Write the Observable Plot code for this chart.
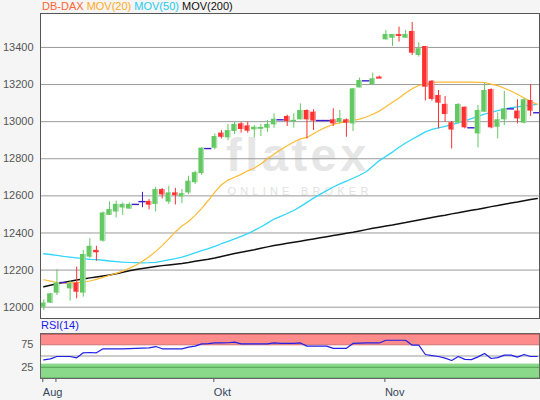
<!DOCTYPE html>
<html><head><meta charset="utf-8">
<script src="https://cdn.jsdelivr.net/npm/d3@7"></script>
<script src="https://cdn.jsdelivr.net/npm/@observablehq/plot@0.6"></script>
<style>
html,body{margin:0;padding:0;background:#f5f5f5;}
#wrap{position:relative;width:540px;height:400px;overflow:hidden;font-family:"Liberation Sans",Arial,sans-serif;}
#legend{position:absolute;left:42px;top:0px;font-size:11px;line-height:13px;white-space:pre;}
#rsilabel{position:absolute;left:41px;top:319px;font-size:11px;line-height:13px;color:#1a1aee;}
#main,#rsi{position:absolute;left:0;}
#main{top:0}#rsi{top:320px}
</style></head><body>
<div id="wrap">
<div id="main"></div>
<div id="rsi"></div>
<div id="legend"><span style="color:#ff6633">DB-DAX</span> <span style="color:#ffaa22">MOV(20)</span> <span style="color:#22ccee">MOV(50)</span> <span style="color:#111">MOV(200)</span></div>
<div id="rsilabel">RSI(14)</div>
</div>
<script>
// candle index (trading sessions, left to right)
const open = [12000,12022,12076,12133,12099,12130,12076,12270,12306,12356, 12495,12513,12535,12529,12554,12569,12570,12554,12634,12567, 12616,12594,12616,12671,12720,12855,12857,12938,12913,12947, 12988,12977,12956,12960,12965,12983,13010,13028,13003,13010, 13060,13051,13006,13006,13010,12997,13010,12988,13182,13220, 13199,13240,13441,13450,13470,13450,13486,13357,13405,13218, 13141,13093,12994,12992,13078,12967,12934,13051,13173,12970, 13010,13069,13057,12992,13114,13048];
const high = [12040,12075,12202,12133,12144,12216,12306,12369,12328,12513, 12567,12572,12562,12562,12554,12619,12580,12646,12639,12652, 12641,12634,12706,12733,12860,12855,12934,12952,12985,12997, 12995,12997,12979,12985,13006,13042,13010,13035,13042,13096, 13064,13064,13006,13006,13069,13060,13015,13177,13235,13220, 13262,13245,13492,13470,13510,13492,13535,13425,13405,13222, 13168,13136,13001,13096,13078,12967,13087,13208,13177,13047, 13163,13069,13118,13123,13200,13048];
const low = [11982,12020,12063,12133,12032,12045,12054,12261,12247,12351, 12495,12481,12495,12529,12554,12536,12525,12513,12583,12554, 12551,12558,12607,12661,12711,12855,12848,12907,12898,12931, 12938,12938,12913,12920,12943,12965,13010,12974,12965,13010, 12907,12952,13006,13006,12974,12988,12916,12947,13182,13220, 13199,13234,13441,13405,13429,13450,13357,13348,13111,13111, 12961,12997,12853,12992,12961,12967,12859,13051,12961,12907, 12979,13069,12988,12988,13028,13048];
const close = [12022,12072,12130,12133,12126,12081,12284,12328,12300,12508, 12526,12554,12554,12554,12554,12569,12550,12634,12605,12616, 12601,12612,12679,12725,12857,12855,12920,12916,12952,12985, 12958,12949,12970,12967,12985,13013,13010,13001,13006,13060, 13010,13003,13006,13006,12988,13017,12992,13177,13222,13220, 13231,13236,13470,13470,13466,13470,13369,13393,13186,13120, 13100,13039,12955,13093,12967,12967,13060,13168,12967,13010, 13069,13069,13015,13118,13057,13048];
const mov20 = [12148,12140,12133,12131,12130,12132,12135,12141,12150,12161, 12172,12182,12194,12209,12226,12248,12272,12301,12332,12368, 12405,12438,12462,12495,12533,12575,12620,12660,12685,12700, 12716,12735,12750,12772,12800,12825,12848,12870,12890,12907, 12915,12935,12955,12972,12985,12993,13000,13007,13014,13025, 13040,13057,13080,13105,13128,13155,13178,13195,13203,13210, 13213,13213,13213,13213,13213,13213,13212,13211,13202,13194, 13180,13165,13148,13128,13110,13093];
const mov50 = [12288,12284,12279,12274,12270,12266,12262,12258,12256,12253, 12249,12246,12243,12241,12240,12239,12240,12242,12248,12255, 12262,12270,12281,12293,12305,12316,12328,12342,12355,12368, 12382,12396,12414,12432,12453,12475,12490,12505,12521,12542, 12565,12588,12608,12628,12648,12665,12680,12695,12711,12730, 12760,12790,12813,12836,12862,12885,12905,12925,12945,12958, 12966,12975,12984,12993,13004,13016,13028,13040,13050,13059, 13068,13075,13080,13085,13089,13093];
const mov200 = [12110,12118,12126,12133,12140,12147,12152,12158,12163,12168, 12173,12180,12188,12196,12203,12209,12214,12219,12224,12228, 12232,12236,12241,12247,12253,12258,12265,12273,12281,12289, 12296,12303,12310,12318,12325,12332,12338,12344,12350,12356, 12362,12368,12374,12380,12386,12392,12398,12404,12411,12418, 12425,12431,12437,12443,12450,12456,12463,12470,12477,12484, 12490,12496,12503,12509,12516,12522,12528,12535,12542,12548, 12555,12561,12567,12574,12580,12586];
const rsi14 = [41.5,43.7,48.9,48.9,48.9,45.9,57,57.8,57,66, 66,66,66,66.5,67,67.5,68,71,66,66, 66,66,69.6,72,77,77.5,79,79,79.5,80.7, 77,77,77,77,77,79,78,78,78,79, 72,72,72,72,67,67,67,78,78.5,79, 79,79,85,85,85,85,74,74,53.3,51, 48.9,45.2,40,48.9,42.5,42,48,55.6,44.4,46.5, 52,52,47.4,53.3,48.9,48.9];
const priceTicks = [12000,12200,12400,12600,12800,13000,13200,13400];
const rsiTicks = [25,75];
const xTickIndex = [0,2,26,52];
const xTickLabel = ["Aug","","Okt","Nov"];

const rows = open.map((o,i)=>({i, o, h:high[i], l:low[i], c:close[i], m20:mov20[i], m50:mov50[i], m200:mov200[i], rsi:rsi14[i]}));
const up = rows.filter(d=>d.c>d.o), dn = rows.filter(d=>d.c<d.o), dj = rows.filter(d=>d.c===d.o);
const GREEN="#62c862", GREEN_L="#b0e2b0", RED="#ff3030", RED_L="#ff9c9c", BLUE="#3a1ccf";
const hw = 0.42, lw = 0.22;
const xDom = [-0.5, 75.35];
const font = '"Liberation Sans",Arial,sans-serif';

function candles(data, col, light){
  return [
    Plot.ruleX(data,{x:"i", y1:"l", y2:"h", stroke:col, strokeWidth:1}),
    Plot.rect(data,{x1:d=>d.i-hw, x2:d=>d.i+hw, y1:"o", y2:"c", fill:col}),
    Plot.rect(data,{x1:d=>d.i+lw, x2:d=>d.i+hw, y1:"o", y2:"c", fill:light}),
    Plot.ruleY(data.filter(d=>Math.abs(d.c-d.o)<12),{y:"c", x1:d=>d.i-hw, x2:d=>d.i+hw, stroke:col, strokeWidth:1.5})
  ];
}

const main = Plot.plot({
  width:540, height:320, marginTop:13, marginBottom:2, marginLeft:40, marginRight:1,
  style:{background:"transparent", fontFamily:font, fontSize:"11px"},
  x:{domain:xDom, axis:null},
  y:{domain:[11939,13583], axis:null},
  marks:[
    Plot.frame({fill:"white"}),
    Plot.text(["flatex"],{frameAnchor:"middle", dx:8, dy:-10, fontSize:47, fontWeight:"bold", fill:"#e6e6e6", fontFamily:font}),
    Plot.text(["ONLINE BROKER"],{frameAnchor:"middle", dx:10, dy:25, fontSize:11, fill:"#e2e2e2", fontFamily:font}),
    Plot.ruleY(priceTicks,{stroke:"#9a9a9a", strokeWidth:1}),
    Plot.axisY(priceTicks,{tickSize:0, tickPadding:7, fill:"#555", fontSize:11, label:null, tickFormat:d=>String(d)}),
    Plot.line(rows,{x:"i", y:"m200", stroke:"#111", strokeWidth:1.5}),
    Plot.line(rows,{x:"i", y:"m50", stroke:"#33d6ff", strokeWidth:1.3}),
    Plot.line(rows,{x:"i", y:"m20", stroke:"#ffbb33", strokeWidth:1.2}),
    ...candles(up, GREEN, GREEN_L),
    ...candles(dn, RED, RED_L),
    Plot.ruleX(dj,{x:"i", y1:"l", y2:"h", stroke:BLUE, strokeWidth:1}),
    Plot.ruleY(dj,{y:"c", x1:d=>d.i-0.55, x2:d=>d.i+0.55, stroke:BLUE, strokeWidth:1.4}),
    Plot.frame({stroke:"#555"})
  ]
});
document.getElementById("main").append(main);

const labelMap = new Map(xTickIndex.map((d,k)=>[d, xTickLabel[k]]));
const rsiPlot = Plot.plot({
  width:540, height:80, marginTop:13, marginBottom:22, marginLeft:40, marginRight:1,
  style:{background:"transparent", fontFamily:font, fontSize:"11px"},
  x:{domain:xDom, axis:null},
  y:{domain:[0,100], axis:null},
  marks:[
    Plot.frame({fill:"white"}),
    Plot.rect([0],{y1:75, y2:100, fill:"#ff8c8c"}),
    Plot.rect([0],{y1:0, y2:32, fill:"#8ad88a"}),
    Plot.ruleY([75,98],{stroke:"#d06060"}),
    Plot.ruleY([25,1],{stroke:"#4fa04f"}),
    Plot.ruleY([50],{stroke:"#999"}),
    Plot.axisY(rsiTicks,{tickSize:0, tickPadding:7, fill:"#555", fontSize:11, label:null}),
    Plot.line(rows,{x:"i", y:"rsi", stroke:"#2020e8", strokeWidth:1.2}),
    Plot.axisX(xTickIndex,{tickSize:4, tickPadding:6, stroke:"#555", fill:"#34475a", textAnchor:"start", dx:-1, fontSize:11, label:null, tickFormat:d=>labelMap.get(d)}),
    Plot.frame({stroke:"#666"})
  ]
});
document.getElementById("rsi").append(rsiPlot);

// watermark letter spacing
d3.select(main).selectAll("text").each(function(){
  const t = this.textContent;
  if (t === "ONLINE BROKER") d3.select(this).attr("letter-spacing", "4.2px");
  if (t === "flatex") d3.select(this).attr("letter-spacing", "3.5px");
});
</script>
</body></html>
